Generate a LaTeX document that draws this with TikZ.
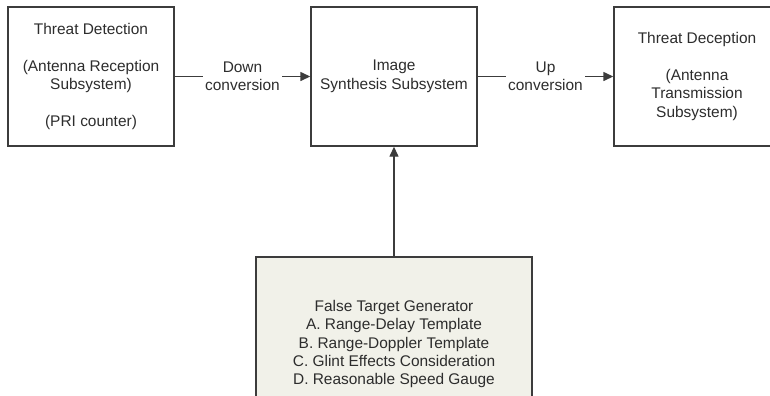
\documentclass[tikz,border=0pt]{standalone}
\usepackage{fontspec}
\setmainfont{Liberation Sans}
\usetikzlibrary{arrows.meta}
\definecolor{boxline}{RGB}{60,60,60}
\definecolor{txt}{RGB}{45,45,45}
\definecolor{genfill}{RGB}{241,241,233}
\tikzset{
  blk/.style={draw=boxline, line width=1.4bp, minimum width=166bp, minimum height=139bp, inner sep=0pt, text=txt, align=center, font=\fontsize{15.5}{18.5}\selectfont},
  lbl/.style={fill=white, inner sep=2bp, text=txt, align=center, font=\fontsize{15.5}{18.5}\selectfont},
  conn/.style={draw=boxline, line width=1.4bp, -{Triangle[length=10bp,width=9bp]}}
}
\begin{document}
\begin{tikzpicture}[x=1bp,y=-1bp]
\clip (0,0) rectangle (770,395);
\fill[white] (0,0) rectangle (770,395);
\node[blk] (det) at (91,76.5) {Threat Detection\\[18bp](Antenna Reception\\Subsystem)\\[18bp](PRI counter)};
\node[blk] (syn) at (394,76.5) {Image\\Synthesis Subsystem};
\node[blk] (dec) at (697,76.5) {Threat Deception\\[18bp](Antenna\\Transmission\\Subsystem)};
\node[blk, fill=genfill, minimum width=276bp, minimum height=174bp] (gen) at (394,344) {False Target Generator\\A. Range-Delay Template\\B. Range-Doppler Template\\C. Glint Effects Consideration\\D. Reasonable Speed Gauge};
\draw[conn] (det.east) -- node[lbl] (dn) {Down\\conversion} (syn.west);
\draw[conn] (syn.east) -- node[lbl] (up) {Up\\conversion} (dec.west);
\draw[conn] (gen.north) -- (syn.south);
\end{tikzpicture}
\end{document}
